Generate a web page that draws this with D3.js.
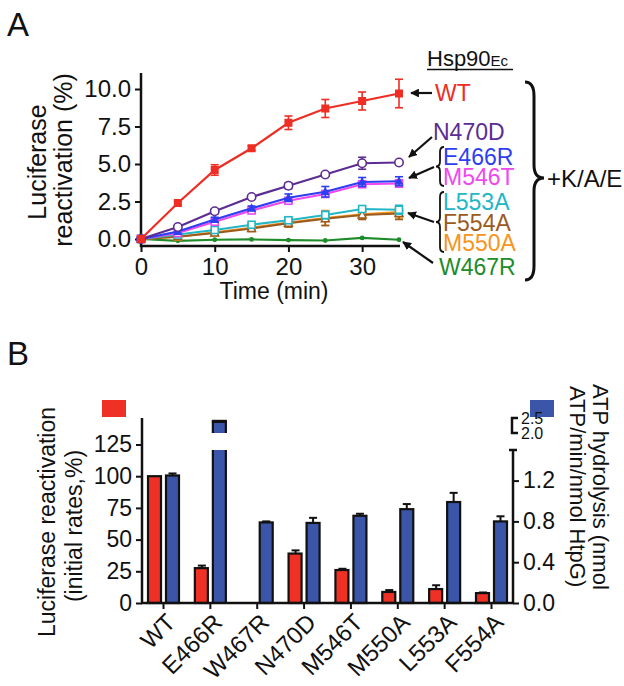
<!DOCTYPE html>
<html><head><meta charset="utf-8">
<script src="https://cdn.jsdelivr.net/npm/d3@7"></script>
<style>body{margin:0;background:#fff} text{font-family:"Liberation Sans",Arial,Helvetica,sans-serif;fill:#111}</style>
</head><body><svg id="c" width="624" height="686"></svg>
<script>
// ---------- Panel A data ----------
const times = [0, 5, 10, 15, 20, 25, 30, 35];
const WT      = [0, 2.4, 4.6, 6.05, 7.75, 8.7, 9.2, 9.7];
const WT_err  = [0, 0.15, 0.35, 0.15, 0.45, 0.6, 0.6, 0.95];
const N470D     = [0, 0.8, 1.85, 2.8, 3.55, 4.3, 5.05, 5.1];
const N470D_err = [0, 0.1, 0.15, 0.1, 0.2, 0.1, 0.4, 0.1];
const E466R     = [0, 0.5, 1.3, 2.05, 2.75, 3.15, 3.8, 3.85];
const E466R_err = [0, 0.1, 0.15, 0.15, 0.25, 0.35, 0.3, 0.3];
const M546T     = [0, 0.4, 1.15, 1.9, 2.55, 3.0, 3.65, 3.7];
const M546T_err = [0, 0.1, 0.1, 0.15, 0.15, 0.2, 0.2, 0.25];
const L553A     = [0, 0.3, 0.6, 0.95, 1.25, 1.6, 2.0, 1.95];
const L553A_err = [0, 0.1, 0.1, 0.15, 0.2, 0.25, 0.15, 0.3];
const F554A     = [0, 0.15, 0.4, 0.7, 1.05, 1.35, 1.6, 1.7];
const F554A_err = [0, 0.1, 0.15, 0.2, 0.25, 0.45, 0.3, 0.4];
const M550A     = [0, 0.15, 0.45, 0.75, 1.1, 1.4, 1.65, 1.8];
const M550A_err = [0, 0.1, 0.15, 0.2, 0.3, 0.5, 0.3, 0.4];
const W467R     = [0, -0.12, -0.05, -0.03, -0.07, -0.1, 0.07, -0.05];
const W467R_err = [0, 0.05, 0.05, 0.05, 0.05, 0.05, 0.05, 0.05];
const yTicksA = [0, 2.5, 5, 7.5, 10];
const xTicksA = [0, 10, 20, 30];

// ---------- Panel B data ----------
const mutants = ["WT", "E466R", "W467R", "N470D", "M546T", "M550A", "L553A", "F554A"];
const reactivation     = [100, 27.5, null, 39, 26, 8.7, 11, 7.8];
const reactivation_err = [0, 2, 0, 2.5, 1, 1.5, 3, 0.5];
const atpase     = [1.25, 2.37, 0.79, 0.785, 0.855, 0.92, 0.99, 0.80];
const atpase_err = [0.02, 0.02, 0.01, 0.05, 0.02, 0.05, 0.09, 0.05];
const yTicksBLeft = [0, 25, 50, 75, 100, 125];
const yTicksBRight = [0, 0.4, 0.8, 1.2];
const yTicksBRightBreak = [2.0, 2.5];

const svg = d3.select("#c");
const FONT = '"Liberation Sans",Arial,Helvetica,sans-serif';

svg.append("defs").append("marker")
  .attr("id", "ah").attr("viewBox", "0 0 10 10").attr("refX", 9).attr("refY", 5)
  .attr("markerWidth", 4).attr("markerHeight", 4).attr("orient", "auto")
  .append("path").attr("d", "M0,0 L10,5 L0,10 z").attr("fill", "#111");

// panel letters
svg.append("text").attr("x", 7).attr("y", 36).attr("font-size", 33).text("A");
svg.append("text").attr("x", 7).attr("y", 365).attr("font-size", 33).text("B");

// ================= PANEL A =================
const xA = d3.scaleLinear().domain([0, 35]).range([141, 399]);
const yA = d3.scaleLinear().domain([0, 10]).range([239, 89]);
const gA = svg.append("g");

const yAxisA = gA.append("g").attr("transform", "translate(141,0)")
  .call(d3.axisLeft(yA).tickValues(yTicksA).tickFormat(d3.format(".1f")).tickSize(6).tickSizeOuter(0));
yAxisA.select(".domain").remove();
yAxisA.selectAll("line").attr("stroke", "#111").attr("stroke-width", 2);
yAxisA.selectAll("text").attr("font-size", 24).attr("font-family", FONT).attr("fill", "#111").attr("dx", "-1");
gA.append("line").attr("x1", 141).attr("x2", 141).attr("y1", 73).attr("y2", 247).attr("stroke", "#111").attr("stroke-width", 2.5);

const xAxisA = gA.append("g").attr("transform", "translate(0,246)")
  .call(d3.axisBottom(xA).tickValues(xTicksA).tickFormat(d3.format("d")).tickSize(6).tickSizeOuter(0));
xAxisA.select(".domain").remove();
xAxisA.selectAll("line").attr("stroke", "#111").attr("stroke-width", 2);
xAxisA.selectAll("text").attr("font-size", 24).attr("font-family", FONT).attr("fill", "#111").attr("dy", "0.85em");
gA.append("line").attr("x1", 140).attr("x2", 400).attr("y1", 246).attr("y2", 246).attr("stroke", "#111").attr("stroke-width", 2.5);

gA.append("text").attr("x", 274).attr("y", 299).attr("text-anchor", "middle").attr("font-size", 23).text("Time (min)");
gA.append("text").attr("transform", "translate(37,162) rotate(-90)").attr("text-anchor", "middle").attr("dy", "0.35em").attr("font-size", 25).text("Luciferase");
gA.append("text").attr("transform", "translate(63,160) rotate(-90)").attr("text-anchor", "middle").attr("dy", "0.35em").attr("font-size", 25).text("reactivation (%)");

const series = [
  {name: "W467R", v: W467R, e: W467R_err, color: "#1e8c2a", marker: "dot"},
  {name: "M550A", v: M550A, e: M550A_err, color: "#f7941d", marker: "osq"},
  {name: "F554A", v: F554A, e: F554A_err, color: "#9a5b1e", marker: "otri"},
  {name: "L553A", v: L553A, e: L553A_err, color: "#22b6c6", marker: "osq"},
  {name: "M546T", v: M546T, e: M546T_err, color: "#ee48ee", marker: "osq"},
  {name: "E466R", v: E466R, e: E466R_err, color: "#2d3ff0", marker: "ftri"},
  {name: "N470D", v: N470D, e: N470D_err, color: "#5b2d92", marker: "ocirc"},
  {name: "WT", v: WT, e: WT_err, color: "#ee2d24", marker: "fsq"}
];
const line = d3.line().x(d => xA(d[0])).y(d => yA(d[1]));
series.forEach(s => {
  const pts = times.map((t, i) => [t, s.v[i], s.e[i]]);
  const g = gA.append("g");
  g.append("path").attr("d", line(pts)).attr("fill", "none").attr("stroke", s.color).attr("stroke-width", 2.2);
  pts.forEach(p => {
    if (p[2] > 0.12) {
      const x = xA(p[0]);
      g.append("line").attr("x1", x).attr("x2", x).attr("y1", yA(p[1] - p[2])).attr("y2", yA(p[1] + p[2])).attr("stroke", s.color).attr("stroke-width", 1.6);
      [p[1] - p[2], p[1] + p[2]].forEach(v => g.append("line").attr("x1", x - 4).attr("x2", x + 4).attr("y1", yA(v)).attr("y2", yA(v)).attr("stroke", s.color).attr("stroke-width", 1.6));
    }
  });
  pts.forEach(p => {
    const x = xA(p[0]), y = yA(p[1]);
    if (s.marker === "fsq") g.append("rect").attr("x", x - 4).attr("y", y - 4).attr("width", 8).attr("height", 8).attr("fill", s.color);
    else if (s.marker === "osq") g.append("rect").attr("x", x - 3.5).attr("y", y - 3.5).attr("width", 7).attr("height", 7).attr("fill", "#fff").attr("stroke", s.color).attr("stroke-width", 1.6);
    else if (s.marker === "ocirc") g.append("circle").attr("cx", x).attr("cy", y).attr("r", 4.2).attr("fill", "#fff").attr("stroke", s.color).attr("stroke-width", 1.6);
    else if (s.marker === "ftri") g.append("path").attr("d", `M${x},${y - 5} L${x + 4.5},${y + 3.5} L${x - 4.5},${y + 3.5}Z`).attr("fill", s.color);
    else if (s.marker === "otri") g.append("path").attr("d", `M${x},${y - 4.5} L${x + 4},${y + 3} L${x - 4},${y + 3}Z`).attr("fill", "#fff").attr("stroke", s.color).attr("stroke-width", 1.4);
    else g.append("circle").attr("cx", x).attr("cy", y).attr("r", 2.4).attr("fill", s.color);
  });
});

// labels
const hsp = gA.append("text").attr("x", 427).attr("y", 66).attr("font-size", 22);
hsp.append("tspan").text("Hsp90");
hsp.append("tspan").attr("font-size", 15).text("Ec");
gA.append("line").attr("x1", 427).attr("x2", 513).attr("y1", 69.5).attr("y2", 69.5).attr("stroke", "#111").attr("stroke-width", 1.4);

const labels = [
  {t: "WT", x: 435, y: 93, c: "#ee2d24"},
  {t: "N470D", x: 433, y: 132, c: "#5b2d92"},
  {t: "E466R", x: 443, y: 157, c: "#2d3ff0"},
  {t: "M546T", x: 443, y: 177, c: "#ee48ee"},
  {t: "L553A", x: 443, y: 202, c: "#22b6c6"},
  {t: "F554A", x: 443, y: 223, c: "#9a5b1e"},
  {t: "M550A", x: 443, y: 243, c: "#f7941d"},
  {t: "W467R", x: 439, y: 267, c: "#1e8c2a"}
];
labels.forEach(l => gA.append("text").attr("x", l.x).attr("y", l.y).attr("dy", "0.36em").attr("font-size", 23).style("fill", l.c).text(l.t));

const arrows = [[432, 93, 411, 93], [432, 137, 409, 157], [434, 167, 409, 178], [434, 222, 408, 213], [433, 263, 403, 242]];
arrows.forEach(a => gA.append("line").attr("x1", a[0]).attr("y1", a[1]).attr("x2", a[2]).attr("y2", a[3])
  .attr("stroke", "#111").attr("stroke-width", 2.2).attr("marker-end", "url(#ah)"));

function lbrace(x, y0, y1) {
  const m = (y0 + y1) / 2;
  return `M${x + 4},${y0} Q${x},${y0} ${x},${y0 + 5} V${m - 5} Q${x},${m} ${x - 4},${m} Q${x},${m} ${x},${m + 5} V${y1 - 5} Q${x},${y1} ${x + 4},${y1}`;
}
gA.append("path").attr("d", lbrace(440, 147, 186)).attr("fill", "none").attr("stroke", "#111").attr("stroke-width", 1.8);
gA.append("path").attr("d", lbrace(440, 192, 252)).attr("fill", "none").attr("stroke", "#111").attr("stroke-width", 1.8);
gA.append("path").attr("d", "M525,82 Q534,82 534,96 V165 Q534,178 544,178 Q534,178 534,191 V266 Q534,280 525,280")
  .attr("fill", "none").attr("stroke", "#111").attr("stroke-width", 3);
gA.append("text").attr("x", 547).attr("y", 178).attr("dy", "0.36em").attr("font-size", 24).text("+K/A/E");

// ================= PANEL B =================
const gB = svg.append("g");
const xB = d3.scalePoint().domain(mutants).range([163, 491]);
const yL = d3.scaleLinear().domain([0, 125]).range([603, 444.5]);
const yR = d3.scaleLinear().domain([0, 1.5]).range([603, 450]);
const yRb = d3.scaleLinear().domain([2.0, 2.5]).range([433, 418]);
const BW = 13;

gB.append("rect").attr("x", 102).attr("y", 400).attr("width", 24).attr("height", 17).attr("fill", "#ee3124");
gB.append("rect").attr("x", 530).attr("y", 400).attr("width", 24).attr("height", 17).attr("fill", "#3b56a8");

mutants.forEach((m, i) => {
  const c = xB(m);
  const r = reactivation[i];
  if (r !== null) {
    const y = yL(r);
    if (reactivation_err[i] > 0.3) {
      const ye = yL(r + reactivation_err[i]);
      gB.append("line").attr("x1", c - 8).attr("x2", c - 8).attr("y1", y).attr("y2", ye).attr("stroke", "#111").attr("stroke-width", 2);
      gB.append("line").attr("x1", c - 12).attr("x2", c - 4).attr("y1", ye).attr("y2", ye).attr("stroke", "#111").attr("stroke-width", 2);
    }
    gB.append("rect").attr("x", c - 2 - BW).attr("y", y).attr("width", BW).attr("height", 603 - y)
      .attr("fill", "#ee3124").attr("stroke", "#111").attr("stroke-width", 2.2);
  }
  const a = atpase[i];
  const bx = c + 3;
  if (a > 1.5) {
    const ytop = yRb(a);
    gB.append("rect").attr("x", bx).attr("y", yR(1.5)).attr("width", BW).attr("height", 603 - yR(1.5)).attr("fill", "#3b56a8");
    gB.append("rect").attr("x", bx).attr("y", ytop).attr("width", BW).attr("height", yRb(2.0) - ytop).attr("fill", "#3b56a8");
    gB.append("path").attr("d", `M${bx},${yR(1.5)} V603 M${bx + BW},${yR(1.5)} V603 M${bx},${yRb(2.0)} V${ytop} H${bx + BW} V${yRb(2.0)}`)
      .attr("fill", "none").attr("stroke", "#111").attr("stroke-width", 2.2);
    gB.append("line").attr("x1", bx - 1).attr("x2", bx + BW + 1).attr("y1", yRb(a + atpase_err[i])).attr("y2", yRb(a + atpase_err[i])).attr("stroke", "#111").attr("stroke-width", 3);
  } else {
    const y = yR(a);
    const ye = yR(a + atpase_err[i]);
    const cx = bx + BW / 2;
    gB.append("line").attr("x1", cx).attr("x2", cx).attr("y1", y).attr("y2", ye).attr("stroke", "#111").attr("stroke-width", 2);
    gB.append("line").attr("x1", cx - 4).attr("x2", cx + 4).attr("y1", ye).attr("y2", ye).attr("stroke", "#111").attr("stroke-width", 2);
    gB.append("rect").attr("x", bx).attr("y", y).attr("width", BW).attr("height", 603 - y)
      .attr("fill", "#3b56a8").attr("stroke", "#111").attr("stroke-width", 2.2);
  }
});

const yAxisL = gB.append("g").attr("transform", "translate(142,0)")
  .call(d3.axisLeft(yL).tickValues(yTicksBLeft).tickFormat(d3.format("d")).tickSize(6).tickSizeOuter(0));
yAxisL.select(".domain").remove();
yAxisL.selectAll("line").attr("stroke", "#111").attr("stroke-width", 2);
yAxisL.selectAll("text").attr("font-size", 23).attr("font-family", FONT).attr("fill", "#111").attr("dx", "-1");
gB.append("line").attr("x1", 142).attr("x2", 142).attr("y1", 418).attr("y2", 604).attr("stroke", "#111").attr("stroke-width", 2.5);

const xAxisB = gB.append("g").attr("transform", "translate(0,603)")
  .call(d3.axisBottom(xB).tickSize(6).tickSizeOuter(0).tickFormat(""));
xAxisB.select(".domain").remove();
xAxisB.selectAll("line").attr("stroke", "#111").attr("stroke-width", 2);
gB.append("line").attr("x1", 141).attr("x2", 514).attr("y1", 603).attr("y2", 603).attr("stroke", "#111").attr("stroke-width", 2.5);
mutants.forEach(m => gB.append("text").attr("transform", `translate(${xB(m) + 8},${618}) rotate(-45)`)
  .attr("text-anchor", "end").attr("dy", "0.35em").attr("font-size", 24).text(m));

const yAxisR = gB.append("g").attr("transform", "translate(513,0)")
  .call(d3.axisRight(yR).tickValues(yTicksBRight).tickFormat(d3.format(".1f")).tickSize(6).tickSizeOuter(0));
yAxisR.select(".domain").remove();
yAxisR.selectAll("line").attr("stroke", "#111").attr("stroke-width", 2);
yAxisR.selectAll("text").attr("font-size", 23).attr("font-family", FONT).attr("fill", "#111").attr("dx", "1");
gB.append("line").attr("x1", 513).attr("x2", 513).attr("y1", 450).attr("y2", 604).attr("stroke", "#111").attr("stroke-width", 2.5);
gB.append("line").attr("x1", 509).attr("x2", 517).attr("y1", 450).attr("y2", 450).attr("stroke", "#111").attr("stroke-width", 2.5);
gB.append("path").attr("d", `M518,${yRb(2.5)} H512 V${yRb(2.0)} H518`).attr("fill", "none").attr("stroke", "#111").attr("stroke-width", 2.5);
yTicksBRightBreak.forEach(v => gB.append("text").attr("x", 521).attr("y", yRb(v)).attr("dy", "0.35em").attr("font-size", 16).text(d3.format(".1f")(v)));

gB.append("text").attr("transform", "translate(47,522) rotate(-90)").attr("text-anchor", "middle").attr("dy", "0.35em").attr("font-size", 23).text("Luciferase reactivation");
gB.append("text").attr("transform", "translate(74,526) rotate(-90)").attr("text-anchor", "middle").attr("dy", "0.35em").attr("font-size", 23).text("(initial rates,%)");
gB.append("text").attr("transform", "translate(601,384) rotate(90)").attr("text-anchor", "start").attr("dy", "0.35em").attr("font-size", 22).text("ATP hydrolysis (nmol");
gB.append("text").attr("transform", "translate(578,386) rotate(90)").attr("text-anchor", "start").attr("dy", "0.35em").attr("font-size", 22).text("ATP/min/nmol HtpG)");
</script></body></html>
